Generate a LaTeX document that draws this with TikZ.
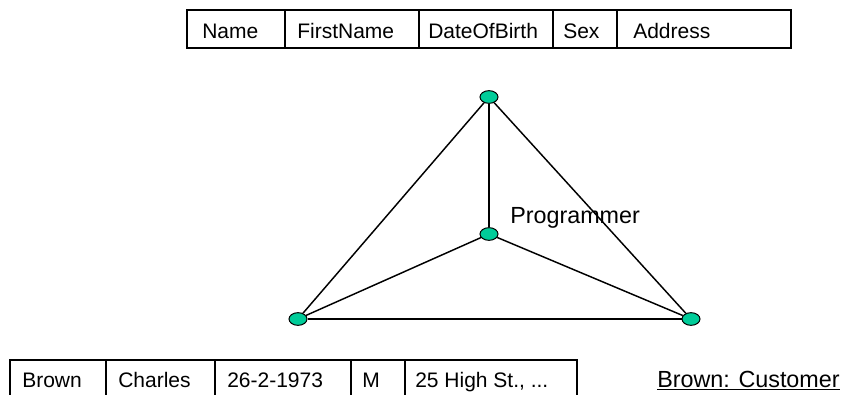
\documentclass[tikz,border=0pt]{standalone}
\usepackage{fontspec}
\setmainfont{Liberation Sans}
\usetikzlibrary{shapes.geometric}
\definecolor{nodegreen}{RGB}{0,204,153}
\begin{document}
\begin{tikzpicture}[x=0.75pt,y=-0.75pt,
  celltext/.style={anchor=base west, inner sep=0pt, font=\fontsize{15.75}{18}\selectfont},
  bigtext/.style={anchor=base west, inner sep=0pt, font=\fontsize{17.5}{20}\selectfont},
  vtx/.style={ellipse, draw=black, line width=0.75pt, fill=nodegreen, minimum width=13.5pt, minimum height=9.5pt, inner sep=0pt},
  edge/.style={draw=black, line width=1.1pt},
  tbl/.style={draw=black, line width=1.1pt}]
\useasboundingbox (0,0) rectangle (843,394);
% top table
\draw[tbl] (187,10) rectangle (791,48);
\draw[tbl] (285,10) -- (285,48) (419,10) -- (419,48) (553,10) -- (553,48) (617,10) -- (617,48);
\node[celltext] (h1) at (202,38) {Name};
\node[celltext] (h2) at (297,38) {FirstName};
\node[celltext] (h3) at (428,38) {DateOfBirth};
\node[celltext] (h4) at (563,38) {Sex};
\node[celltext] (h5) at (633,38) {Address};
% graph
\node[vtx] (t) at (489,97) {};
\node[vtx] (c) at (489,234) {};
\node[vtx] (l) at (298,319) {};
\node[vtx] (r) at (691,319) {};
\draw[edge] (t) -- (l);
\draw[edge] (t) -- (r);
\draw[edge] (t) -- (c);
\draw[edge] (c) -- (l);
\draw[edge] (c) -- (r);
\draw[edge] (l) -- (r);
\node[bigtext] (prog) at (510,223) {Programmer};
% bottom table
\draw[tbl] (10,398) -- (10,360) -- (577,360) -- (577,398);
\draw[tbl] (106,360) -- (106,398) (215,360) -- (215,398) (351,360) -- (351,398) (405,360) -- (405,398);
\node[celltext] (b1) at (22,387) {Brown};
\node[celltext] (b2) at (118,387) {Charles};
\node[celltext] (b3) at (227,387) {26-2-1973};
\node[celltext] (b4) at (362,387) {M};
\node[celltext] (b5) at (415,387) {25 High St., ...};
\node[bigtext] (obj) at (657,387) {\underline{Brown: Customer}};
\end{tikzpicture}
\end{document}
